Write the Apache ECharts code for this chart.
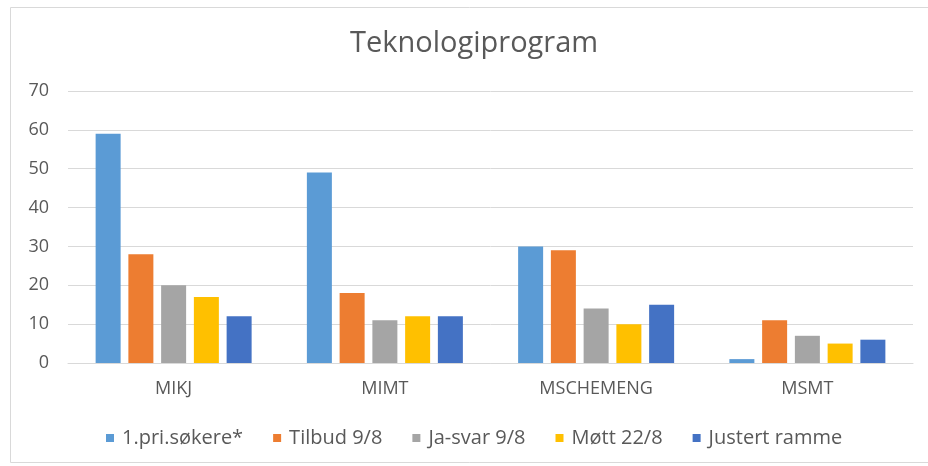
<!DOCTYPE html>
<html>
<head>
<meta charset="utf-8">
<script src="https://cdn.jsdelivr.net/npm/echarts@6/dist/echarts.min.js"></script>
<style>
html,body{margin:0;padding:0;background:#fff;}
#chart{width:928px;height:466px;}
</style>
</head>
<body>
<div id="chart"></div>
<script>
const categories = ['MIKJ', 'MIMT', 'MSCHEMENG', 'MSMT'];
const seriesNames = ['1.pri.søkere*', 'Tilbud 9/8', 'Ja-svar 9/8', 'Møtt 22/8', 'Justert ramme'];
const priSokere = [59, 49, 30, 1];
const tilbud = [28, 18, 29, 11];
const jaSvar = [20, 11, 14, 7];
const mott = [17, 12, 10, 5];
const justertRamme = [12, 12, 15, 6];
const colors = ['#5B9BD5', '#ED7D31', '#A5A5A5', '#FFC000', '#4472C4'];
const values = [priSokere, tilbud, jaSvar, mott, justertRamme];

const FONT = 'Open Sans';
const chart = echarts.init(document.getElementById('chart'), null, {renderer: 'canvas'});
chart.setOption({
  animation: false,
  color: colors,
  title: {
    text: 'Teknologiprogram',
    left: 350,
    top: 29,
    padding: 0,
    textStyle: {fontFamily: FONT, fontSize: 29, fontWeight: 'normal', color: '#595959'}
  },
  graphic: [{
    type: 'rect',
    shape: {x: 10.5, y: 7.5, width: 930, height: 455},
    style: {fill: 'none', stroke: '#d9d9d9', lineWidth: 1},
    silent: true
  }],
  legend: {
    bottom: 13,
    left: 101,
    itemWidth: 8,
    itemHeight: 8,
    itemGap: 30,
    icon: 'rect',
    textStyle: {fontFamily: FONT, fontSize: 20, color: '#595959', padding: [0, 0, 0, 3]},
    data: seriesNames
  },
  grid: {left: 68, right: 15, top: 91, bottom: 103, containLabel: false},
  xAxis: {
    type: 'category',
    data: categories,
    axisLine: {lineStyle: {color: '#d9d9d9'}},
    axisTick: {show: false},
    axisLabel: {fontFamily: FONT, fontSize: 18, color: '#595959', margin: 17}
  },
  yAxis: {
    type: 'value',
    min: 0,
    max: 70,
    interval: 10,
    axisLine: {show: false},
    axisTick: {show: false},
    splitLine: {lineStyle: {color: '#d9d9d9'}},
    axisLabel: {fontFamily: FONT, fontSize: 18, color: '#595959', margin: 19}
  },
  series: seriesNames.map((n, i) => ({
    name: n,
    type: 'bar',
    data: values[i],
    barWidth: 25,
    barGap: '31%'
  }))
});
</script>
</body>
</html>
